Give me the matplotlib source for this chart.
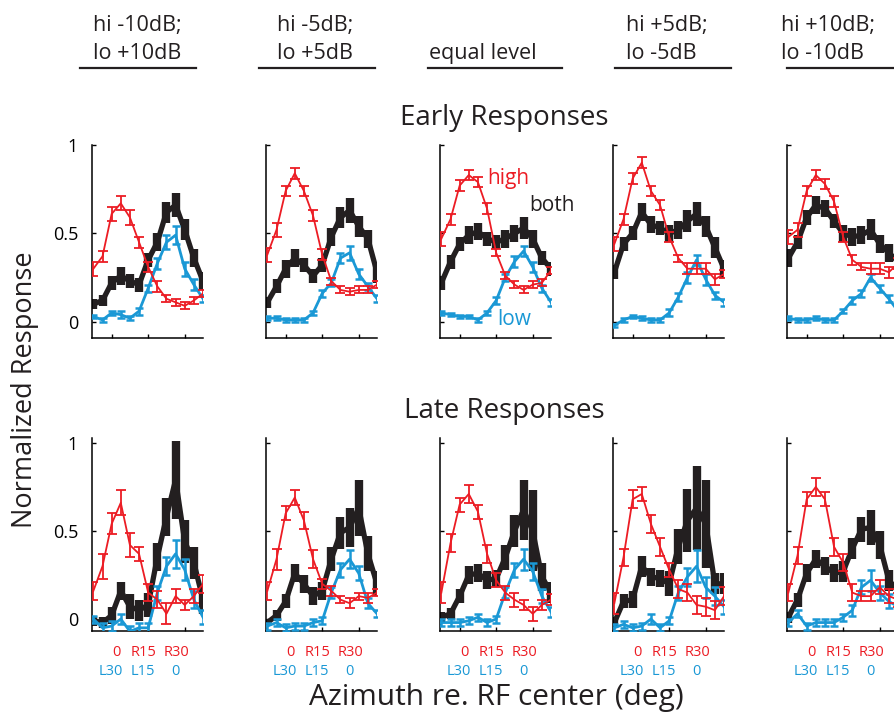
import numpy as np
import matplotlib
matplotlib.use('Agg')
from matplotlib import pyplot as plt
from matplotlib.lines import Line2D

plt.rcParams['font.family'] = ['Open Sans', 'DejaVu Sans']

RED = '#ec1c24'
BLUE = '#1a98d5'
BLACK = '#231f20'

# speaker positions (13 steps), ticks at 0 / R15 / R30 for the high tone
azimuth = np.arange(13)
tick_pos = [2, 6, 10]
hi_labels = ['0', 'R15', 'R30']
lo_labels = ['L30', 'L15', '0']
hi_label_x = [2.5, 5.5, 9.1]
lo_label_x = [1.9, 5.4, 9.0]

conditions = [('hi -10dB;', 'lo +10dB'), ('hi -5dB;', 'lo +5dB'), ('', 'equal level'),
              ('hi +5dB;', 'lo -5dB'), ('hi +10dB;', 'lo -10dB')]

# ---- early responses ----
early_high = [
    [0.30, 0.37, 0.61, 0.67, 0.59, 0.45, 0.31, 0.20, 0.13, 0.11, 0.09, 0.12, 0.16],
    [0.38, 0.52, 0.74, 0.84, 0.74, 0.60, 0.38, 0.23, 0.18, 0.17, 0.18, 0.18, 0.21],
    [0.47, 0.58, 0.77, 0.83, 0.79, 0.64, 0.39, 0.26, 0.21, 0.18, 0.21, 0.22, 0.29],
    [0.44, 0.58, 0.81, 0.90, 0.74, 0.66, 0.48, 0.36, 0.30, 0.30, 0.30, 0.24, 0.27],
    [0.48, 0.52, 0.74, 0.83, 0.78, 0.68, 0.48, 0.35, 0.31, 0.30, 0.30, 0.28, 0.33],
]
early_high_err = [
    [0.04, 0.03, 0.04, 0.04, 0.04, 0.03, 0.03, 0.03, 0.02, 0.02, 0.02, 0.02, 0.02],
    [0.04, 0.04, 0.03, 0.03, 0.03, 0.03, 0.03, 0.02, 0.02, 0.02, 0.02, 0.02, 0.02],
    [0.04, 0.03, 0.03, 0.03, 0.03, 0.03, 0.02, 0.02, 0.02, 0.02, 0.02, 0.02, 0.02],
    [0.04, 0.03, 0.03, 0.03, 0.03, 0.03, 0.03, 0.02, 0.03, 0.03, 0.03, 0.03, 0.02],
    [0.04, 0.04, 0.03, 0.03, 0.03, 0.03, 0.03, 0.03, 0.02, 0.03, 0.03, 0.03, 0.03],
]
early_both = [
    [0.10, 0.12, 0.22, 0.26, 0.23, 0.21, 0.35, 0.45, 0.62, 0.66, 0.52, 0.36, 0.23],
    [0.11, 0.20, 0.30, 0.36, 0.32, 0.26, 0.32, 0.48, 0.59, 0.63, 0.54, 0.47, 0.28],
    [0.22, 0.34, 0.44, 0.49, 0.51, 0.47, 0.45, 0.47, 0.50, 0.53, 0.47, 0.36, 0.30],
    [0.28, 0.44, 0.50, 0.62, 0.55, 0.53, 0.50, 0.52, 0.57, 0.61, 0.54, 0.42, 0.30],
    [0.36, 0.45, 0.59, 0.66, 0.64, 0.57, 0.50, 0.48, 0.49, 0.52, 0.44, 0.39, 0.34],
]
early_both_err = [
    [0.03, 0.03, 0.04, 0.05, 0.04, 0.04, 0.04, 0.05, 0.06, 0.07, 0.06, 0.05, 0.05],
    [0.03, 0.04, 0.05, 0.05, 0.04, 0.04, 0.04, 0.05, 0.06, 0.07, 0.06, 0.05, 0.06],
    [0.04, 0.04, 0.04, 0.05, 0.05, 0.04, 0.04, 0.05, 0.05, 0.06, 0.05, 0.04, 0.04],
    [0.04, 0.04, 0.04, 0.05, 0.05, 0.04, 0.05, 0.05, 0.06, 0.07, 0.06, 0.06, 0.05],
    [0.05, 0.04, 0.04, 0.05, 0.05, 0.04, 0.05, 0.05, 0.05, 0.06, 0.05, 0.05, 0.04],
]
early_low = [
    [0.03, 0.01, 0.05, 0.04, 0.02, 0.06, 0.19, 0.33, 0.45, 0.49, 0.30, 0.21, 0.13],
    [0.02, 0.02, 0.01, 0.01, 0.01, 0.05, 0.16, 0.22, 0.36, 0.39, 0.27, 0.20, 0.13],
    [0.05, 0.04, 0.03, 0.03, 0.01, 0.05, 0.12, 0.25, 0.34, 0.40, 0.31, 0.19, 0.11],
    [-0.02, 0.01, 0.03, 0.02, 0.01, 0.01, 0.05, 0.14, 0.25, 0.35, 0.24, 0.15, 0.11],
    [0.02, 0.01, 0.01, 0.02, 0.01, 0.01, 0.06, 0.12, 0.16, 0.25, 0.19, 0.13, 0.06],
]
early_low_err = [
    [0.01, 0.01, 0.01, 0.02, 0.01, 0.02, 0.02, 0.03, 0.04, 0.05, 0.04, 0.03, 0.02],
    [0.01, 0.01, 0.01, 0.01, 0.01, 0.01, 0.02, 0.02, 0.03, 0.04, 0.03, 0.02, 0.02],
    [0.01, 0.01, 0.01, 0.01, 0.01, 0.01, 0.02, 0.02, 0.03, 0.03, 0.03, 0.02, 0.02],
    [0.01, 0.01, 0.01, 0.01, 0.01, 0.01, 0.02, 0.02, 0.03, 0.03, 0.03, 0.02, 0.02],
    [0.01, 0.01, 0.01, 0.01, 0.01, 0.01, 0.01, 0.02, 0.02, 0.02, 0.02, 0.02, 0.02],
]

# ---- late responses ----
late_high = [
    [0.16, 0.30, 0.54, 0.66, 0.42, 0.37, 0.15, 0.11, 0.03, 0.13, 0.08, 0.13, 0.20],
    [0.16, 0.34, 0.60, 0.69, 0.56, 0.34, 0.20, 0.16, 0.11, 0.09, 0.13, 0.12, 0.15],
    [0.15, 0.43, 0.65, 0.71, 0.61, 0.37, 0.22, 0.15, 0.11, 0.08, 0.03, 0.08, 0.11],
    [0.09, 0.35, 0.68, 0.71, 0.54, 0.41, 0.28, 0.17, 0.15, 0.08, 0.07, 0.05, 0.13],
    [0.15, 0.36, 0.68, 0.75, 0.68, 0.41, 0.32, 0.15, 0.13, 0.13, 0.18, 0.13, 0.11],
]
late_high_err = [
    [0.05, 0.07, 0.06, 0.07, 0.07, 0.04, 0.05, 0.05, 0.06, 0.04, 0.03, 0.04, 0.05],
    [0.05, 0.06, 0.04, 0.04, 0.05, 0.05, 0.03, 0.03, 0.02, 0.03, 0.02, 0.03, 0.02],
    [0.06, 0.05, 0.04, 0.05, 0.04, 0.05, 0.04, 0.04, 0.04, 0.03, 0.04, 0.03, 0.03],
    [0.06, 0.05, 0.05, 0.04, 0.05, 0.05, 0.04, 0.05, 0.05, 0.05, 0.05, 0.05, 0.05],
    [0.05, 0.05, 0.04, 0.05, 0.04, 0.05, 0.05, 0.05, 0.03, 0.03, 0.04, 0.04, 0.04],
]
late_both = [
    [-0.01, -0.02, 0.02, 0.16, 0.07, 0.05, 0.08, 0.35, 0.58, 0.79, 0.44, 0.32, 0.11],
    [-0.02, 0.02, 0.10, 0.26, 0.20, 0.13, 0.16, 0.34, 0.49, 0.52, 0.63, 0.37, 0.20],
    [0.01, 0.03, 0.13, 0.25, 0.26, 0.22, 0.23, 0.35, 0.50, 0.62, 0.50, 0.24, 0.15],
    [-0.02, 0.10, 0.11, 0.30, 0.24, 0.23, 0.20, 0.41, 0.56, 0.63, 0.54, 0.20, 0.20],
    [0.01, 0.11, 0.26, 0.34, 0.30, 0.26, 0.27, 0.40, 0.51, 0.52, 0.42, 0.22, 0.16],
]
late_both_err = [
    [0.03, 0.03, 0.05, 0.05, 0.07, 0.06, 0.07, 0.08, 0.11, 0.22, 0.12, 0.09, 0.08],
    [0.02, 0.03, 0.04, 0.05, 0.05, 0.05, 0.05, 0.07, 0.09, 0.11, 0.16, 0.10, 0.07],
    [0.03, 0.03, 0.04, 0.05, 0.05, 0.05, 0.05, 0.07, 0.09, 0.17, 0.23, 0.08, 0.06],
    [0.03, 0.04, 0.05, 0.06, 0.05, 0.05, 0.07, 0.10, 0.18, 0.24, 0.25, 0.06, 0.06],
    [0.03, 0.04, 0.05, 0.05, 0.05, 0.05, 0.06, 0.06, 0.07, 0.10, 0.08, 0.06, 0.05],
]
late_low = [
    [0.00, -0.05, -0.04, 0.00, -0.07, -0.05, -0.05, 0.15, 0.30, 0.37, 0.28, 0.11, 0.01],
    [-0.04, -0.02, -0.05, -0.04, -0.04, -0.02, -0.01, 0.15, 0.28, 0.34, 0.26, 0.09, 0.03],
    [-0.02, -0.02, -0.02, -0.01, 0.01, -0.02, 0.00, 0.15, 0.28, 0.34, 0.27, 0.13, 0.04],
    [-0.05, -0.03, -0.05, -0.04, 0.00, -0.05, -0.01, 0.15, 0.24, 0.30, 0.18, 0.13, 0.07],
    [-0.02, 0.03, -0.04, -0.02, -0.02, -0.02, 0.01, 0.05, 0.18, 0.22, 0.15, 0.10, 0.07],
]
late_low_err = [
    [0.02, 0.03, 0.03, 0.03, 0.03, 0.03, 0.03, 0.04, 0.05, 0.08, 0.06, 0.05, 0.04],
    [0.02, 0.02, 0.02, 0.02, 0.02, 0.02, 0.02, 0.03, 0.04, 0.05, 0.04, 0.03, 0.02],
    [0.02, 0.02, 0.02, 0.02, 0.02, 0.02, 0.02, 0.03, 0.04, 0.06, 0.05, 0.04, 0.03],
    [0.02, 0.02, 0.02, 0.02, 0.03, 0.02, 0.02, 0.04, 0.05, 0.09, 0.06, 0.05, 0.04],
    [0.02, 0.02, 0.02, 0.02, 0.02, 0.02, 0.02, 0.03, 0.04, 0.06, 0.04, 0.04, 0.03],
]

W, H = 894.0, 716.0
fig = plt.figure(figsize=(W / 100, H / 100), dpi=100)


def fx(x):
    return x / W


def fy(y):
    return 1 - y / H


col_left = [92, 266, 440, 613, 787]
ax_w = 111
ax_h = 193
row_top = [145, 438]
row_ylim = [(-0.092, 1.0), (-0.068, 1.028)]
rows = [(early_high, early_high_err, early_both, early_both_err, early_low, early_low_err),
        (late_high, late_high_err, late_both, late_both_err, late_low, late_low_err)]

for r in range(2):
    hi, hi_e, bo, bo_e, lo, lo_e = rows[r]
    for c in range(5):
        ax = fig.add_axes([fx(col_left[c]), fy(row_top[r] + ax_h), fx(ax_w), ax_h / H])
        ax.errorbar(azimuth, bo[c], yerr=bo_e[c], color=BLACK, lw=3.8,
                    elinewidth=6, capsize=0, zorder=2)
        ax.errorbar(azimuth, lo[c], yerr=lo_e[c], color=BLUE, lw=2.0,
                    elinewidth=1.8, capsize=3, capthick=1.8, zorder=3)
        ax.errorbar(azimuth, hi[c], yerr=hi_e[c], color=RED, lw=1.3,
                    elinewidth=1.3, capsize=3.5, capthick=1.3, zorder=4)
        ax.set_xlim(-0.15, 12.0)
        ax.set_ylim(*row_ylim[r])
        for s in ['top', 'right']:
            ax.spines[s].set_visible(False)
        for s in ['left', 'bottom']:
            ax.spines[s].set_linewidth(1.1)
        ax.set_xticks(tick_pos)
        ax.set_xticklabels([])
        ax.set_yticks([0, 0.5, 1])
        ax.tick_params(direction='in', length=3, width=1)
        if c == 0:
            ax.set_yticklabels(['0', '0.5', '1'], fontsize=13)
            ax.tick_params(axis='y', pad=10)
        else:
            ax.set_yticklabels([])
        if r == 1:
            for xl, t in zip(hi_label_x, hi_labels):
                ax.text(xl, -0.19, t, color=RED, fontsize=10.5, ha='center', va='center',
                        transform=ax.transData, clip_on=False)
            for xl, t in zip(lo_label_x, lo_labels):
                ax.text(xl, -0.30, t, color=BLUE, fontsize=10.5, ha='center', va='center',
                        transform=ax.transData, clip_on=False)
        if r == 0 and c == 2:
            ax.text(5.05, 0.81, 'high', color=RED, fontsize=15, va='center')
            ax.text(9.6, 0.66, 'both', color=BLACK, fontsize=15, va='center')
            ax.text(6.15, 0.01, 'low', color=BLUE, fontsize=15, va='center')

# condition headers with underlines
head_text_x = [93, 277, 429, 626, 781]
head_line = [(80, 196), (259, 375), (428, 562), (615, 731), (787, 896)]
for (l1, l2), tx, (a, b) in zip(conditions, head_text_x, head_line):
    if l1:
        fig.text(fx(tx), fy(31), l1, fontsize=15.5, va='baseline', ha='left', color=BLACK)
    fig.text(fx(tx), fy(59), l2, fontsize=15.5, va='baseline', ha='left', color=BLACK)
    fig.add_artist(Line2D([fx(a), fx(b)], [fy(68), fy(68)], color=BLACK, lw=1.6))

fig.text(fx(504), fy(125), 'Early Responses', fontsize=20, ha='center', va='baseline', color=BLACK)
fig.text(fx(504), fy(418), 'Late Responses', fontsize=20, ha='center', va='baseline', color=BLACK)
fig.text(fx(25), fy(390), 'Normalized Response', fontsize=19.5, ha='center', va='center',
         rotation=90, color=BLACK)
fig.text(fx(496), fy(697), 'Azimuth re. RF center (deg)', fontsize=21.5, ha='center',
         va='center', color=BLACK)

fig.savefig('out.png', dpi=100)
